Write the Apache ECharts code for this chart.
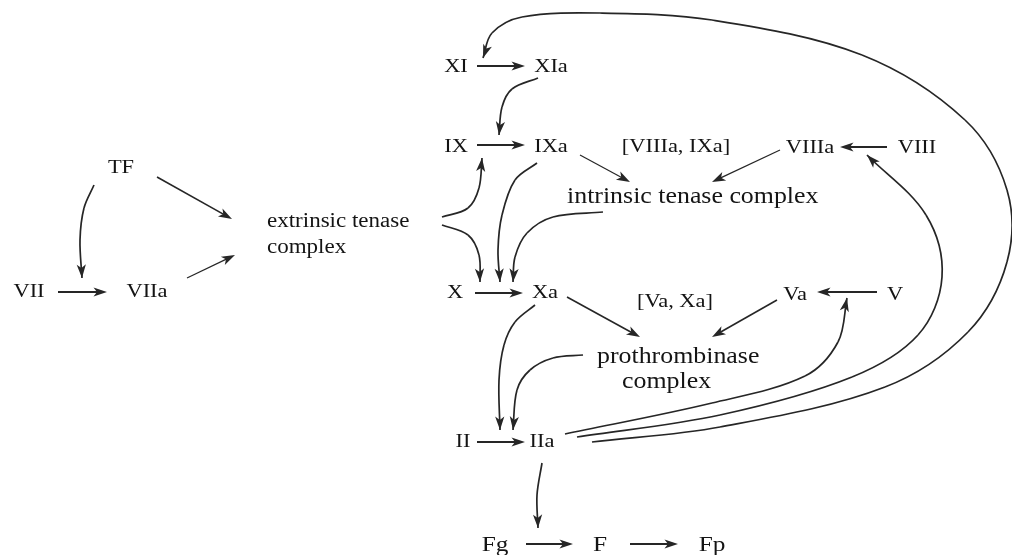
<!DOCTYPE html>
<html>
<head>
<meta charset="utf-8">
<style>
  html, body { margin: 0; padding: 0; background: #fff; }
  #chart { width: 1012px; height: 555px; }
</style>
</head>
<body>
<div id="chart"></div>
<script src="https://cdn.jsdelivr.net/npm/echarts@6/dist/echarts.min.js"></script>
<script>
// ----------資料----------
// 凝血因子 (座標軸單位 = 畫面像素, y 向下)
const factorNames = ['TF', 'VII', 'VIIa', 'XI', 'XIa', 'IX', 'IXa', 'VIIIa', 'VIII', 'X', 'Xa', 'Va', 'V', 'II', 'IIa'];
const factorX = [121, 29, 147, 456, 551, 456, 551, 810, 917, 455, 545, 795, 895, 463, 542];
const factorY = [168, 292, 292, 67, 67, 147, 147, 148, 148, 293, 293, 295, 295, 442, 442];

// 複合物 [xx, xx]
const pairNames = ['[VIIIa, IXa]', '[Va, Xa]'];
const pairX = [676, 675];
const pairY = [147, 302];

// 複合物名稱 (左對齊)
const complexNames = ['extrinsic tenase', 'complex', 'intrinsic tenase complex', 'prothrombinase', 'complex'];
const complexX = [267, 267, 567, 597, 622];
const complexY = [222, 248, 197, 357, 382];

// 纖維蛋白
const fibrinNames = ['Fg', 'F', 'Fp'];
const fibrinX = [495, 600, 712];
const fibrinY = [545, 545, 545];

// 直線箭頭 [x1, y1, x2, y2]
const boldArrows = [
  [58, 292, 107, 292],
  [477, 66, 525, 66],
  [477, 145, 525, 145],
  [887, 147, 840, 147],
  [475, 293, 523, 293],
  [877, 292, 817, 292],
  [477, 442, 525, 442],
  [526, 544, 573, 544],
  [630, 544, 678, 544],
];
const slantArrows = [
  [157, 177, 232, 219],
  [567, 297, 640, 337],
  [777, 300, 712, 337],
];
const thinArrows = [
  [187, 278, 235, 255],
  [580, 155, 630, 182],
  [780, 150, 712, 182],
];

// 曲線箭頭 (經過點)
const curvedArrows = [
  [[94, 185], [84, 208], [80, 240], [82, 278]], // TF -> VII
  [[442, 217], [468, 208], [479, 188], [482, 158]], // ext -> IX
  [[442, 225], [468, 235], [479, 255], [480, 282]], // ext -> X
  [[538, 78], [512, 89], [502, 107], [499, 135]], // XIa -> IXa
  [[537, 163], [515, 180], [502, 215], [498, 250], [500, 282]], // IXa -> Xa
  [[603, 212], [553, 217], [527, 233], [515, 257], [513, 282]], // intrinsic -> Xa
  [[535, 305], [515, 322], [504, 345], [499, 380], [500, 430]], // Xa -> IIa
  [[583, 355], [553, 358], [530, 370], [517, 390], [513, 430]], // prothrombinase -> IIa
  [[542, 463], [537, 495], [538, 528]], // IIa -> Fg
  [[565, 434], [712, 403], [805, 376], [838, 342], [847, 298]], // IIa -> Va
  [[577, 437], [720, 415], [852, 377], [918, 335], [942, 277], [926, 215], [867, 155]], // IIa -> VIIIa
  [[592, 442], [720, 427], [885, 387], [968, 332], [1007, 262], [1007, 190], [965, 120],
   [862, 55], [712, 20], [600, 13], [522, 17], [492, 33], [483, 58]], // IIa -> XI
];
// ------------------------

// ----------樣式----------
const INK = '#262626';
const FONT = "'Liberation Serif', 'Times New Roman', serif";
const STRETCH = 1.15; // 原圖字型偏寬
// ------------------------

// ----------繪圖工具----------
// 箭頭 (尖端 tip, 方向由 from 指向 tip)
const arrowHead = (tip, from) => {
  const dx = tip[0] - from[0];
  const dy = tip[1] - from[1];
  const len = Math.hypot(dx, dy) || 1;
  const ux = dx / len;
  const uy = dy / len;
  const L = 13.5, W = 4.6, N = 3.5;
  const bx = tip[0] - ux * L;
  const by = tip[1] - uy * L;
  return {
    type: 'polygon',
    shape: {
      points: [
        tip,
        [bx - uy * W, by + ux * W],
        [tip[0] - ux * (L - N), tip[1] - uy * (L - N)],
        [bx + uy * W, by - ux * W],
      ],
    },
    style: { fill: INK },
  };
};

// 經過點轉成三次貝茲 (切線長度依線段長度, 避免過衝)
const smoothSegments = (pts) => {
  const unit = (a, b) => {
    const l = Math.hypot(b[0] - a[0], b[1] - a[1]) || 1;
    return [(b[0] - a[0]) / l, (b[1] - a[1]) / l];
  };
  const segs = [];
  for (let i = 0; i < pts.length - 1; i++) {
    const p0 = pts[i - 1] || pts[i];
    const p1 = pts[i];
    const p2 = pts[i + 1];
    const p3 = pts[i + 2] || pts[i + 1];
    const d = Math.hypot(p2[0] - p1[0], p2[1] - p1[1]) / 3;
    const t1 = unit(p0, p2);
    const t2 = unit(p1, p3);
    segs.push({
      x1: p1[0], y1: p1[1], x2: p2[0], y2: p2[1],
      cpx1: p1[0] + t1[0] * d,
      cpy1: p1[1] + t1[1] * d,
      cpx2: p2[0] - t2[0] * d,
      cpy2: p2[1] - t2[1] * d,
    });
  }
  return segs;
};

const straightSeries = (list, width) => ({
  type: 'custom',
  coordinateSystem: 'cartesian2d',
  clip: false,
  silent: true,
  data: list.map((a) => [a[0], a[1], a[2], a[3]]),
  renderItem: (params, api) => {
    const p1 = api.coord([api.value(0), api.value(1)]);
    const p2 = api.coord([api.value(2), api.value(3)]);
    const len = Math.hypot(p2[0] - p1[0], p2[1] - p1[1]);
    const k = (len - 9) / len;
    const end = [p1[0] + (p2[0] - p1[0]) * k, p1[1] + (p2[1] - p1[1]) * k];
    return {
      type: 'group',
      children: [
        {
          type: 'line',
          shape: { x1: p1[0], y1: p1[1], x2: end[0], y2: end[1] },
          style: { stroke: INK, lineWidth: width },
        },
        arrowHead(p2, p1),
      ],
    };
  },
});

const labelSeries = (names, xs, ys, size, align) => ({
  type: 'custom',
  coordinateSystem: 'cartesian2d',
  clip: false,
  silent: true,
  data: names.map((n, i) => [xs[i], ys[i]]),
  renderItem: (params, api) => {
    const p = api.coord([api.value(0), api.value(1)]);
    return {
      type: 'text',
      x: p[0],
      y: p[1],
      scaleX: STRETCH,
      style: {
        text: names[params.dataIndex],
        fontSize: size,
        fontFamily: FONT,
        fill: '#141414',
        align: align,
        verticalAlign: 'middle',
      },
    };
  },
});
// ---------------------------

// ----------圖表----------
const chart = echarts.init(document.getElementById('chart'));

chart.setOption({
  animation: false,
  backgroundColor: '#ffffff',
  grid: { left: 0, right: 0, top: 0, bottom: 0 },
  xAxis: { type: 'value', min: 0, max: 1012, show: false },
  yAxis: { type: 'value', min: 0, max: 555, inverse: true, show: false },
  series: [
    straightSeries(boldArrows, 2),
    straightSeries(slantArrows, 1.6),
    straightSeries(thinArrows, 1.2),
    {
      type: 'custom',
      coordinateSystem: 'cartesian2d',
      clip: false,
      silent: true,
      data: curvedArrows.map((c, i) => [c[0][0], c[0][1], i]),
      renderItem: (params, api) => {
        const pts = curvedArrows[params.dataIndex].map((p) => api.coord(p));
        const segs = smoothSegments(pts);
        const last = segs[segs.length - 1];
        const children = segs.map((s) => ({
          type: 'bezierCurve',
          shape: s,
          style: { stroke: INK, lineWidth: 1.7, fill: null },
        }));
        children.push(arrowHead([last.x2, last.y2], [last.cpx2, last.cpy2]));
        return { type: 'group', children };
      },
    },
    labelSeries(factorNames, factorX, factorY, 19.5, 'center'),
    labelSeries(pairNames, pairX, pairY, 19.5, 'center'),
    labelSeries(complexNames.slice(0, 2), complexX.slice(0, 2), complexY.slice(0, 2), 20, 'left'),
    labelSeries(complexNames.slice(2), complexX.slice(2), complexY.slice(2), 22.5, 'left'),
    labelSeries(fibrinNames, fibrinX, fibrinY, 22, 'center'),
  ],
});

window.addEventListener('resize', () => chart.resize());
// ------------------------
</script>
</body>
</html>
